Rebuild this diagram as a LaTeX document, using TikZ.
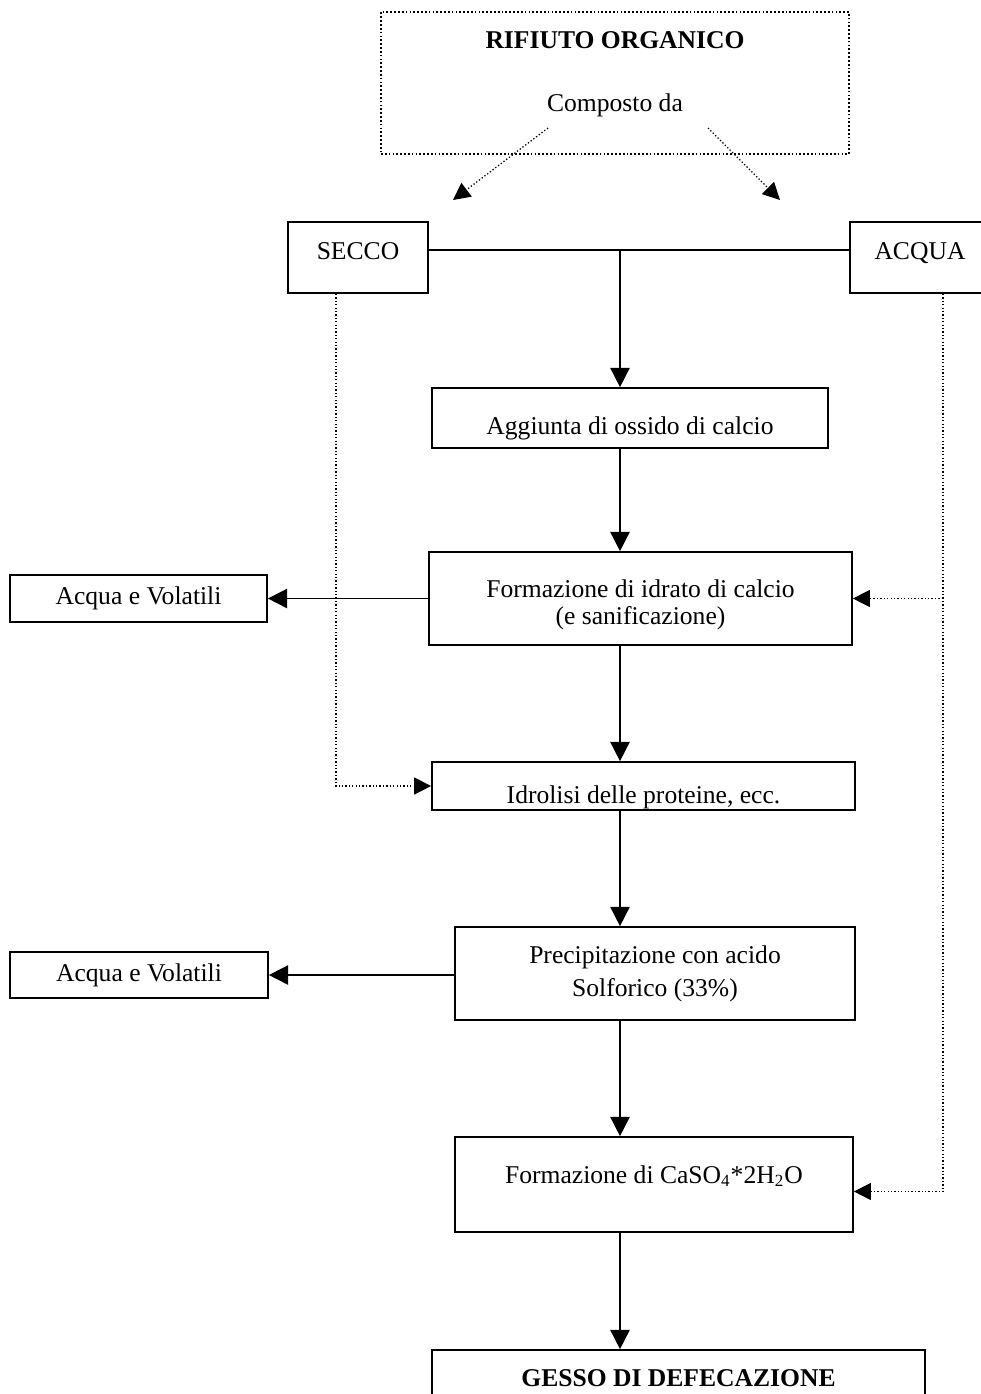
\documentclass[tikz,border=0pt]{standalone}
\usepackage{fontspec}
\setmainfont{Liberation Serif}
\usetikzlibrary{arrows.meta,calc}

\begin{document}
\begin{tikzpicture}[x=0.469pt,y=-0.469pt,
    scatola/.style={draw=black,line width=0.8pt,align=center,inner sep=2pt,
      font=\fontsize{12}{14.5}\selectfont},
    dim/.style 2 args={minimum width=#1*0.469pt,minimum height=#2*0.469pt},
    freccia/.style={-{Triangle[length=9pt,width=9pt]},line width=0.8pt},
    puntini/.style={-{Triangle[length=8pt,width=8pt]},densely dotted,line width=0.6pt}]
    \useasboundingbox (0,0) rectangle (981,1394);

    \node[scatola,densely dotted,line width=0.6pt,dim={468}{142},text depth=11pt] (rifiuto) at (615,83) {\textbf{RIFIUTO ORGANICO}\\[15pt]Composto da};
    \node[scatola,dim={140}{71},text depth=6pt] (secco) at (358,257.5) {SECCO};
    \node[scatola,dim={140}{71},text depth=6pt] (acqua) at (920,257.5) {ACQUA};
    \node[scatola,dim={396}{60},text height=18.9pt,text depth=3pt] (aggiunta) at (630,418) {Aggiunta di ossido di calcio};
    \node[scatola,dim={423}{93},text height=27.8pt,text depth=3pt] (formazione) at (640.5,598.5) {Formazione di idrato di calcio\\[-1.8pt](e sanificazione)};
    \node[scatola,dim={257}{47}] (volatili1) at (138.5,598.5) {Acqua e Volatili};
    \node[scatola,inner ysep=0pt,dim={423}{48},text height=19pt,text depth=3pt] (idrolisi) at (643.5,786) {Idrolisi delle proteine, ecc.};
    \node[scatola,dim={400}{93}] (precipitazione) at (655,973.5) {Precipitazione con acido\\[1pt]Solforico (33\%)};
    \node[scatola,dim={258}{46}] (volatili2) at (139,975) {Acqua e Volatili};
    \node[scatola,dim={398}{95},text height=9pt,text depth=10.4pt] (solfato) at (654,1184.5) {Formazione di CaSO\textsubscript{4}*2H\textsubscript{2}O};
    \node[scatola,dim={493}{56}] (gesso) at (678.5,1378) {\textbf{GESSO DI DEFECAZIONE}};

    \coordinate (sx1) at (548,128);
    \coordinate (sx2) at (453,200);
    \coordinate (dx1) at (708,128);
    \coordinate (dx2) at (780,200);
    \coordinate (giunto) at (620,250);
    \coordinate (sinistra) at ($(secco.south)+(-22,0)$);
    \coordinate (destra) at ($(acqua.south)+(23,0)$);
    \coordinate (ingresso) at ($(solfato.east)+(0,7)$);

    %Composto da
    \draw[puntini] (sx1) -- (sx2);
    \draw[puntini] (dx1) -- (dx2);

    %linea principale
    \draw[line width=0.8pt] (secco.east |- giunto) -- (acqua.west |- giunto);
    \draw[freccia] (giunto) -- (giunto |- aggiunta.north);
    \draw[freccia] (giunto |- aggiunta.south) -- (giunto |- formazione.north);
    \draw[freccia] (giunto |- formazione.south) -- (giunto |- idrolisi.north);
    \draw[freccia] (giunto |- idrolisi.south) -- (giunto |- precipitazione.north);
    \draw[freccia] (giunto |- precipitazione.south) -- (giunto |- solfato.north);
    \draw[freccia] (giunto |- solfato.south) -- (giunto |- gesso.north);

    %uscite verso sinistra
    \draw[freccia] (volatili1.east -| formazione.west) -- (volatili1.east);
    \draw[freccia] (volatili2.east -| precipitazione.west) -- (volatili2.east);

    %secco e acqua tratteggiati
    \draw[puntini] (sinistra) |- (idrolisi.west);
    \draw[puntini] (destra) |- (ingresso);
    \draw[puntini] (destra |- volatili1) -- (formazione.east |- volatili1);
\end{tikzpicture}
\end{document}
